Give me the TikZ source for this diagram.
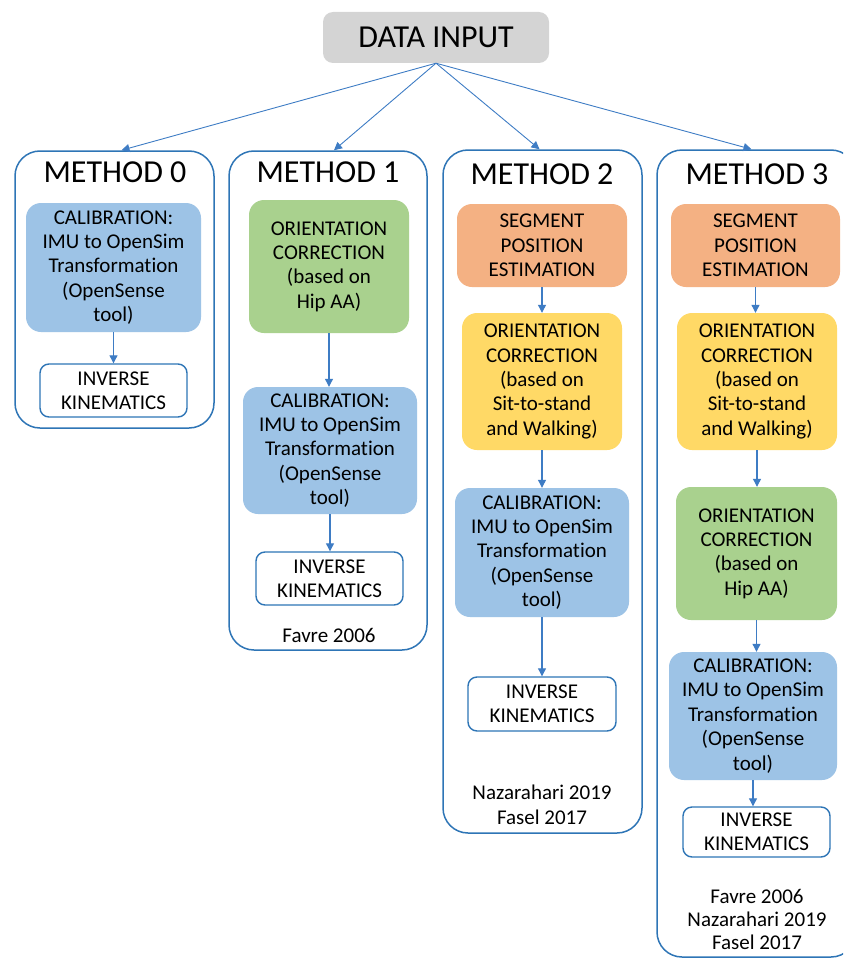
\documentclass[tikz,border=0pt]{standalone}
\usepackage{fontspec}
\setmainfont[Ligatures=NoCommon]{Carlito}
\usetikzlibrary{arrows.meta}
\definecolor{frameblue}{HTML}{2E75B6}
\definecolor{arrowblue}{HTML}{3E7CC4}
\definecolor{calibfill}{HTML}{9DC3E6}
\definecolor{greenfill}{HTML}{A9D18E}
\definecolor{orangefill}{HTML}{F4B183}
\definecolor{yellowfill}{HTML}{FFD966}
\definecolor{grayfill}{HTML}{D4D4D4}
\newcommand{\bodyfnt}{\fontsize{21}{24.4}\selectfont}
\newcommand{\titlefnt}{\fontsize{32}{36}\selectfont}
\tikzset{
  methodframe/.style={draw=frameblue, line width=1.5pt, rounded corners=25pt, fill=white},
  stagebox/.style={rounded corners=15pt, align=center, inner sep=0pt, font=\bodyfnt, text=black},
  ikbox/.style={stagebox, draw=frameblue, line width=1.4pt, fill=white, rounded corners=9pt},
  titletext/.style={font=\titlefnt, text=black, inner sep=0pt},
  reftext/.style={font=\bodyfnt, align=center, text=black, inner sep=0pt},
  flow/.style={draw=arrowblue, line width=1.1pt, -{Triangle[width=8pt,length=8pt]}},
  dataflow/.style={draw=arrowblue, line width=0.9pt, -{Triangle[width=8pt,length=8pt]}}
}
\begin{document}
\begin{tikzpicture}[x=1pt,y=-1pt]
\useasboundingbox (0,0) rectangle (843,958);
\clip (0,0) rectangle (843,958);

% data input
\node[stagebox, fill=grayfill, rounded corners=10pt, minimum width=226pt, minimum height=51pt, font=\titlefnt] (data) at (436,37.5) {DATA INPUT};

% method frames
\node[methodframe, minimum width=199pt, minimum height=277pt] (m0) at (114.5,289.5) {};
\node[methodframe, minimum width=198pt, minimum height=499pt] (m1) at (328,400.5) {};
\node[methodframe, minimum width=199pt, minimum height=683pt] (m2) at (542.5,491.5) {};
\node[methodframe, minimum width=199pt, minimum height=807pt] (m3) at (756.5,553.5) {};

% titles
\node[titletext] (t0) at (115,172.5) {METHOD 0};
\node[titletext] (t1) at (328,172.5) {METHOD 1};
\node[titletext] (t2) at (542,174) {METHOD 2};
\node[titletext] (t3) at (757,174.5) {METHOD 3};

% method 0
\node[stagebox, fill=calibfill, minimum width=175pt, minimum height=129pt] (cal0) at (113.5,267.5)
  {CALIBRATION:\\IMU to OpenSim\\Transformation\\(OpenSense\\tool)};
\node[ikbox, minimum width=147pt, minimum height=53pt] (ik0) at (113.5,390.5) {INVERSE\\KINEMATICS};

% method 1
\node[stagebox, fill=greenfill, minimum width=160pt, minimum height=133pt] (ori1) at (329,266.5)
  {ORIENTATION\\CORRECTION\\(based on\\Hip AA)};
\node[stagebox, fill=calibfill, minimum width=174pt, minimum height=127pt] (cal1) at (330,450.5)
  {CALIBRATION:\\IMU to OpenSim\\Transformation\\(OpenSense\\tool)};
\node[ikbox, minimum width=147pt, minimum height=53pt] (ik1) at (329.5,578.5) {INVERSE\\KINEMATICS};
\node[reftext] (r1) at (329,635) {Favre 2006};

% method 2
\node[stagebox, fill=orangefill, minimum width=170pt, minimum height=83pt] (seg2) at (542,245.5)
  {SEGMENT\\POSITION\\ESTIMATION};
\node[stagebox, fill=yellowfill, minimum width=160pt, minimum height=137pt] (ori2) at (542,381.5)
  {ORIENTATION\\CORRECTION\\(based on\\Sit-to-stand\\and Walking)};
\node[stagebox, fill=calibfill, minimum width=174pt, minimum height=129pt] (cal2) at (542,552.5)
  {CALIBRATION:\\IMU to OpenSim\\Transformation\\(OpenSense\\tool)};
\node[ikbox, minimum width=148pt, minimum height=54pt] (ik2) at (542,704) {INVERSE\\KINEMATICS};
\node[reftext, font=\fontsize{21}{25}\selectfont] (r2) at (542,804.5) {Nazarahari 2019\\Fasel 2017};

% method 3
\node[stagebox, fill=orangefill, minimum width=169pt, minimum height=83pt] (seg3) at (755.5,245.5)
  {SEGMENT\\POSITION\\ESTIMATION};
\node[stagebox, fill=yellowfill, minimum width=160pt, minimum height=137pt] (ori3) at (757,381.5)
  {ORIENTATION\\CORRECTION\\(based on\\Sit-to-stand\\and Walking)};
\node[stagebox, fill=greenfill, minimum width=161pt, minimum height=133pt] (hip3) at (756.5,553.5)
  {ORIENTATION\\CORRECTION\\(based on\\Hip AA)};
\node[stagebox, fill=calibfill, minimum width=168pt, minimum height=128pt] (cal3) at (753,716)
  {CALIBRATION:\\IMU to OpenSim\\Transformation\\(OpenSense\\tool)};
\node[ikbox, minimum width=147pt, minimum height=50pt] (ik3) at (756.5,832) {INVERSE\\KINEMATICS};
\node[reftext, font=\fontsize{21}{22.6}\selectfont] (r3) at (757,919.5) {Favre 2006\\Nazarahari 2019\\Fasel 2017};

% data arrows
\draw[dataflow] (data.south) -- ([xshift=7pt]m0.north);
\draw[dataflow] (data.south) -- ([xshift=6pt]m1.north);
\draw[dataflow] (data.south) -- ([xshift=-3pt]m2.north);
\draw[dataflow] (data.south) -- ([xshift=-5pt]m3.north);

% inner flows
\draw[flow] (cal0.south) -- (cal0.south |- ik0.north);
\draw[flow] (ori1.south) -- (ori1.south |- cal1.north);
\draw[flow] (cal1.south) -- (cal1.south |- ik1.north);
\draw[flow] (seg2.south) -- (seg2.south |- ori2.north);
\draw[flow] (ori2.south) -- (ori2.south |- cal2.north);
\draw[flow] (cal2.south) -- (cal2.south |- ik2.north);
\draw[flow] (seg3.south) -- (seg3.south |- ori3.north);
\draw[flow] (ori3.south) -- (ori3.south |- hip3.north);
\draw[flow] (hip3.south) -- (hip3.south |- cal3.north);
\draw[flow] (cal3.south) -- (cal3.south |- ik3.north);
\end{tikzpicture}
\end{document}
